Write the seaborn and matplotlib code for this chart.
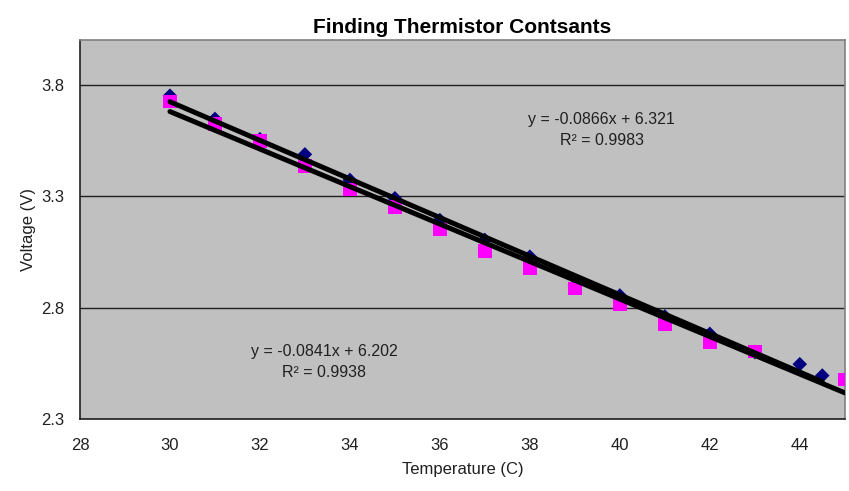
import numpy as np
import pandas as pd
import seaborn as sns
import matplotlib
matplotlib.use('Agg')
import matplotlib.pyplot as plt

# ---- data ----
temp_a = [30, 31, 32, 33, 34, 35, 36, 37, 38, 39, 40, 41, 42, 43, 44, 44.5]
volt_a = [3.750, 3.646, 3.555, 3.487, 3.372, 3.290, 3.192, 3.103, 3.028,
          2.900, 2.854, 2.760, 2.682, 2.600, 2.546, 2.495]

temp_b = [30, 31, 32, 33, 34, 35, 36, 37, 38, 39, 40, 41, 42, 43, 45]
volt_b = [3.724, 3.623, 3.548, 3.434, 3.330, 3.251, 3.150, 3.054, 2.977,
          2.885, 2.815, 2.726, 2.645, 2.603, 2.477]

# trendline coefficients as printed on the chart
fit_a = (-0.0866, 6.321)
fit_b = (-0.0841, 6.202)
r2_a = 0.9983
r2_b = 0.9938

x_ticks = [28, 30, 32, 34, 36, 38, 40, 42, 44]
y_ticks = [2.3, 2.8, 3.3, 3.8]

sns.set_style('white')
plt.rcParams['font.family'] = ['Liberation Sans', 'DejaVu Sans']

fig = plt.figure(figsize=(8.49, 4.91), dpi=100)
ax = fig.add_axes([0.0942, 0.1466, 0.9008, 0.772])
ax.set_facecolor('#C0C0C0')

for y in y_ticks:
    ax.axhline(y, color='#202020', lw=1.0, zorder=1)

df_a = pd.DataFrame({'t': temp_a, 'v': volt_a})
df_b = pd.DataFrame({'t': temp_b, 'v': volt_b})
sns.scatterplot(data=df_a, x='t', y='v', marker='D', s=55, color='#000080',
                edgecolor='none', ax=ax, zorder=3)
sns.scatterplot(data=df_b, x='t', y='v', marker='s', s=95, color='#FF00FF',
                edgecolor='none', ax=ax, zorder=4)

# linear trendlines over each series' range
for temps, (m, c) in [(temp_a, fit_a), (temp_b, fit_b)]:
    xs = np.array([min(temps), max(temps)])
    sns.lineplot(x=xs, y=m * xs + c, color='black', lw=3.6, ax=ax, zorder=5)

ax.text(39.6, 3.645, f'y = {fit_a[0]}x + {fit_a[1]}', ha='center', va='center',
        fontsize=11.5, color='#202020')
ax.text(39.6, 3.547, f'R² = {r2_a}', ha='center', va='center',
        fontsize=11.5, color='#202020')
ax.text(33.43, 2.604, f'y = {fit_b[0]}x + {fit_b[1]}', ha='center', va='center',
        fontsize=11.5, color='#202020')
ax.text(33.43, 2.51, f'R² = {r2_b}', ha='center', va='center',
        fontsize=11.5, color='#202020')

ax.set_xlim(28, 45)
ax.set_ylim(2.3, 4.0)
ax.set_xticks(x_ticks)
ax.set_yticks(y_ticks)
ax.set_yticklabels([f'{v:.1f}' for v in y_ticks])
ax.tick_params(axis='both', direction='out', length=5, width=1, color='#202020',
               labelsize=12, labelcolor='#202020')
ax.tick_params(axis='x', pad=9)
ax.tick_params(axis='y', pad=6)

for side in ['top', 'right']:
    ax.spines[side].set_color('#808080')
    ax.spines[side].set_linewidth(1.2)
for side in ['left', 'bottom']:
    ax.spines[side].set_color('#202020')
    ax.spines[side].set_linewidth(1.2)

ax.set_xlabel('Temperature (C)', fontsize=12, color='#202020', labelpad=6)
ax.set_ylabel('Voltage (V)', fontsize=12, color='#202020', labelpad=4)
ax.set_title('Finding Thermistor Contsants', fontsize=15, fontweight='bold',
             color='black', pad=5)
if ax.get_legend():
    ax.get_legend().remove()

fig.savefig('out.png', dpi=100)
